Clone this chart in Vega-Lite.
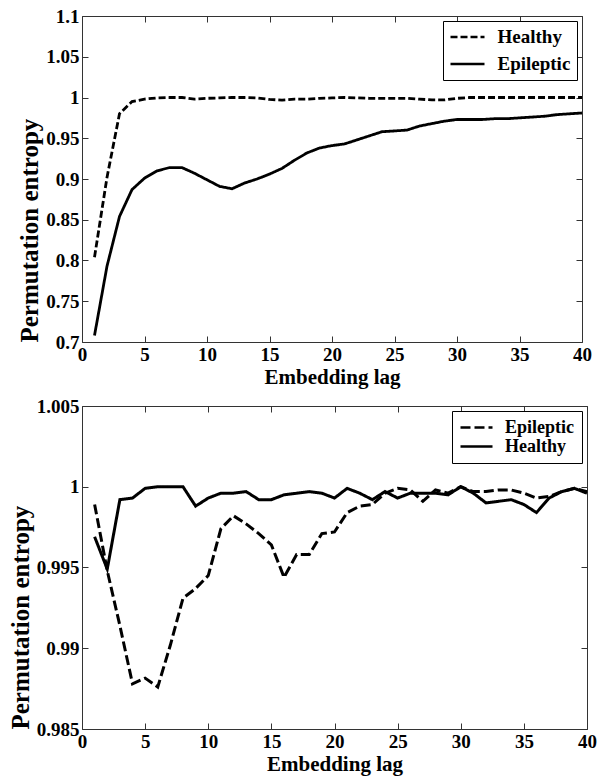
{
  "$schema": "https://vega.github.io/schema/vega-lite/v6.json",
  "padding": {"top": 6, "left": 7, "right": 4, "bottom": 3},
  "spacing": 8,
  "resolve": {"scale": {"strokeDash": "independent", "x": "independent", "y": "independent"}, "legend": {"strokeDash": "independent"}},
  "datasets": {
    "top": [
      {"lag":1,"series":"Healthy","pe":0.804},{"lag":2,"series":"Healthy","pe":0.902},{"lag":3,"series":"Healthy","pe":0.980},{"lag":4,"series":"Healthy","pe":0.995},{"lag":5,"series":"Healthy","pe":0.998},{"lag":6,"series":"Healthy","pe":0.9995},{"lag":7,"series":"Healthy","pe":1.0},{"lag":8,"series":"Healthy","pe":1.0},{"lag":9,"series":"Healthy","pe":0.998},{"lag":10,"series":"Healthy","pe":0.999},
      {"lag":11,"series":"Healthy","pe":0.9995},{"lag":12,"series":"Healthy","pe":1.0},{"lag":13,"series":"Healthy","pe":1.0},{"lag":14,"series":"Healthy","pe":0.9995},{"lag":15,"series":"Healthy","pe":0.9976},{"lag":16,"series":"Healthy","pe":0.9968},{"lag":17,"series":"Healthy","pe":0.998},{"lag":18,"series":"Healthy","pe":0.998},{"lag":19,"series":"Healthy","pe":0.999},{"lag":20,"series":"Healthy","pe":0.9995},
      {"lag":21,"series":"Healthy","pe":1.0},{"lag":22,"series":"Healthy","pe":0.9995},{"lag":23,"series":"Healthy","pe":0.999},{"lag":24,"series":"Healthy","pe":0.999},{"lag":25,"series":"Healthy","pe":0.999},{"lag":26,"series":"Healthy","pe":0.999},{"lag":27,"series":"Healthy","pe":0.998},{"lag":28,"series":"Healthy","pe":0.997},{"lag":29,"series":"Healthy","pe":0.997},{"lag":30,"series":"Healthy","pe":0.999},
      {"lag":31,"series":"Healthy","pe":1.0},{"lag":32,"series":"Healthy","pe":1.0},{"lag":33,"series":"Healthy","pe":1.0},{"lag":34,"series":"Healthy","pe":1.0},{"lag":35,"series":"Healthy","pe":1.0},{"lag":36,"series":"Healthy","pe":1.0},{"lag":37,"series":"Healthy","pe":1.0},{"lag":38,"series":"Healthy","pe":1.0},{"lag":39,"series":"Healthy","pe":1.0},{"lag":40,"series":"Healthy","pe":1.0},
      {"lag":1,"series":"Epileptic","pe":0.708},{"lag":2,"series":"Epileptic","pe":0.793},{"lag":3,"series":"Epileptic","pe":0.854},{"lag":4,"series":"Epileptic","pe":0.887},{"lag":5,"series":"Epileptic","pe":0.901},{"lag":6,"series":"Epileptic","pe":0.910},{"lag":7,"series":"Epileptic","pe":0.914},{"lag":8,"series":"Epileptic","pe":0.914},{"lag":9,"series":"Epileptic","pe":0.907},{"lag":10,"series":"Epileptic","pe":0.899},
      {"lag":11,"series":"Epileptic","pe":0.891},{"lag":12,"series":"Epileptic","pe":0.888},{"lag":13,"series":"Epileptic","pe":0.895},{"lag":14,"series":"Epileptic","pe":0.900},{"lag":15,"series":"Epileptic","pe":0.906},{"lag":16,"series":"Epileptic","pe":0.913},{"lag":17,"series":"Epileptic","pe":0.923},{"lag":18,"series":"Epileptic","pe":0.932},{"lag":19,"series":"Epileptic","pe":0.938},{"lag":20,"series":"Epileptic","pe":0.941},
      {"lag":21,"series":"Epileptic","pe":0.943},{"lag":22,"series":"Epileptic","pe":0.948},{"lag":23,"series":"Epileptic","pe":0.953},{"lag":24,"series":"Epileptic","pe":0.958},{"lag":25,"series":"Epileptic","pe":0.959},{"lag":26,"series":"Epileptic","pe":0.960},{"lag":27,"series":"Epileptic","pe":0.965},{"lag":28,"series":"Epileptic","pe":0.968},{"lag":29,"series":"Epileptic","pe":0.971},{"lag":30,"series":"Epileptic","pe":0.973},
      {"lag":31,"series":"Epileptic","pe":0.973},{"lag":32,"series":"Epileptic","pe":0.973},{"lag":33,"series":"Epileptic","pe":0.974},{"lag":34,"series":"Epileptic","pe":0.974},{"lag":35,"series":"Epileptic","pe":0.975},{"lag":36,"series":"Epileptic","pe":0.976},{"lag":37,"series":"Epileptic","pe":0.977},{"lag":38,"series":"Epileptic","pe":0.979},{"lag":39,"series":"Epileptic","pe":0.980},{"lag":40,"series":"Epileptic","pe":0.981}
    ],
    "bottom": [
      {"lag":1,"series":"Epileptic","pe":0.9989},{"lag":2,"series":"Epileptic","pe":0.9948},{"lag":3,"series":"Epileptic","pe":0.9914},{"lag":4,"series":"Epileptic","pe":0.9878},{"lag":5,"series":"Epileptic","pe":0.98815},{"lag":6,"series":"Epileptic","pe":0.9876},{"lag":7,"series":"Epileptic","pe":0.9902},{"lag":8,"series":"Epileptic","pe":0.9931},{"lag":9,"series":"Epileptic","pe":0.9937},{"lag":10,"series":"Epileptic","pe":0.9945},
      {"lag":11,"series":"Epileptic","pe":0.9974},{"lag":12,"series":"Epileptic","pe":0.9982},{"lag":13,"series":"Epileptic","pe":0.9977},{"lag":14,"series":"Epileptic","pe":0.9971},{"lag":15,"series":"Epileptic","pe":0.9964},{"lag":16,"series":"Epileptic","pe":0.9944},{"lag":17,"series":"Epileptic","pe":0.9958},{"lag":18,"series":"Epileptic","pe":0.9958},{"lag":19,"series":"Epileptic","pe":0.9971},{"lag":20,"series":"Epileptic","pe":0.9972},
      {"lag":21,"series":"Epileptic","pe":0.9984},{"lag":22,"series":"Epileptic","pe":0.9988},{"lag":23,"series":"Epileptic","pe":0.9989},{"lag":24,"series":"Epileptic","pe":0.9996},{"lag":25,"series":"Epileptic","pe":0.9999},{"lag":26,"series":"Epileptic","pe":0.9998},{"lag":27,"series":"Epileptic","pe":0.9991},{"lag":28,"series":"Epileptic","pe":0.9998},{"lag":29,"series":"Epileptic","pe":0.9996},{"lag":30,"series":"Epileptic","pe":1.0},
      {"lag":31,"series":"Epileptic","pe":0.9997},{"lag":32,"series":"Epileptic","pe":0.9997},{"lag":33,"series":"Epileptic","pe":0.9998},{"lag":34,"series":"Epileptic","pe":0.9998},{"lag":35,"series":"Epileptic","pe":0.9996},{"lag":36,"series":"Epileptic","pe":0.9993},{"lag":37,"series":"Epileptic","pe":0.9994},{"lag":38,"series":"Epileptic","pe":0.9997},{"lag":39,"series":"Epileptic","pe":0.9999},{"lag":40,"series":"Epileptic","pe":0.9997},
      {"lag":1,"series":"Healthy","pe":0.9969},{"lag":2,"series":"Healthy","pe":0.9949},{"lag":3,"series":"Healthy","pe":0.9992},{"lag":4,"series":"Healthy","pe":0.9993},{"lag":5,"series":"Healthy","pe":0.9999},{"lag":6,"series":"Healthy","pe":1.0},{"lag":7,"series":"Healthy","pe":1.0},{"lag":8,"series":"Healthy","pe":1.0},{"lag":9,"series":"Healthy","pe":0.9988},{"lag":10,"series":"Healthy","pe":0.9993},
      {"lag":11,"series":"Healthy","pe":0.9996},{"lag":12,"series":"Healthy","pe":0.9996},{"lag":13,"series":"Healthy","pe":0.9997},{"lag":14,"series":"Healthy","pe":0.9992},{"lag":15,"series":"Healthy","pe":0.9992},{"lag":16,"series":"Healthy","pe":0.9995},{"lag":17,"series":"Healthy","pe":0.9996},{"lag":18,"series":"Healthy","pe":0.9997},{"lag":19,"series":"Healthy","pe":0.9996},{"lag":20,"series":"Healthy","pe":0.9993},
      {"lag":21,"series":"Healthy","pe":0.9999},{"lag":22,"series":"Healthy","pe":0.9996},{"lag":23,"series":"Healthy","pe":0.9992},{"lag":24,"series":"Healthy","pe":0.9997},{"lag":25,"series":"Healthy","pe":0.9993},{"lag":26,"series":"Healthy","pe":0.9996},{"lag":27,"series":"Healthy","pe":0.9996},{"lag":28,"series":"Healthy","pe":0.9996},{"lag":29,"series":"Healthy","pe":0.9995},{"lag":30,"series":"Healthy","pe":1.0},
      {"lag":31,"series":"Healthy","pe":0.9996},{"lag":32,"series":"Healthy","pe":0.9990},{"lag":33,"series":"Healthy","pe":0.9991},{"lag":34,"series":"Healthy","pe":0.9992},{"lag":35,"series":"Healthy","pe":0.9989},{"lag":36,"series":"Healthy","pe":0.9984},{"lag":37,"series":"Healthy","pe":0.9993},{"lag":38,"series":"Healthy","pe":0.9997},{"lag":39,"series":"Healthy","pe":0.9999},{"lag":40,"series":"Healthy","pe":0.9996}
    ]
  },
  "vconcat": [
    {
      "width": 500,
      "height": 326,
      "data": {"name": "top"},
      "layer": [
        {
          "mark": {"type": "line", "color": "black", "strokeWidth": 2.8},
          "encoding": {
            "x": {"field": "lag", "type": "quantitative", "title": "Embedding lag",
                  "scale": {"domain": [0, 40], "nice": false, "zero": false},
                  "axis": {"values": [0,5,10,15,20,25,30,35,40]}},
            "y": {"field": "pe", "type": "quantitative", "title": "Permutation entropy",
                  "scale": {"domain": [0.7, 1.1], "nice": false, "zero": false},
                  "axis": {"values": [0.7,0.75,0.8,0.85,0.9,0.95,1,1.05,1.1], "format": ".4~g"}},
            "strokeDash": {"field": "series", "type": "nominal",
                  "scale": {"domain": ["Healthy", "Epileptic"], "range": [[7, 3], [1, 0]]},
                  "legend": {"title": null, "orient": "top-right", "offset": 5, "labelFontSize": 19, "rowPadding": 7, "padding": 6, "symbolType": "M-2,0L2,0", "symbolSize": 289, "symbolOffset": 8.5, "labelOffset": 20}}
          }
        },
        {
          "mark": {"type": "line", "opacity": 0},
          "encoding": {
            "x": {"field": "lag", "type": "quantitative",
                  "axis": {"orient": "top", "labels": false, "title": null, "minExtent": 0, "values": [0,5,10,15,20,25,30,35,40]}},
            "y": {"field": "pe", "type": "quantitative",
                  "axis": {"orient": "right", "labels": false, "title": null, "minExtent": 0, "values": [0.7,0.75,0.8,0.85,0.9,0.95,1,1.05,1.1]}}
          }
        }
      ],
      "resolve": {"axis": {"x": "independent", "y": "independent"}}
    },
    {
      "width": 505,
      "height": 323,
      "data": {"name": "bottom"},
      "layer": [
        {
          "mark": {"type": "line", "color": "black", "strokeWidth": 3},
          "encoding": {
            "x": {"field": "lag", "type": "quantitative", "title": "Embedding lag",
                  "scale": {"domain": [0, 40], "nice": false, "zero": false},
                  "axis": {"values": [0,5,10,15,20,25,30,35,40]}},
            "y": {"field": "pe", "type": "quantitative", "title": "Permutation entropy",
                  "scale": {"domain": [0.985, 1.005], "nice": false, "zero": false},
                  "axis": {"values": [0.985,0.99,0.995,1,1.005], "format": ".4~g"}},
            "strokeDash": {"field": "series", "type": "nominal",
                  "scale": {"domain": ["Epileptic", "Healthy"], "range": [[10, 4], [1, 0]]},
                  "legend": {"title": null, "orient": "top-right", "offset": 5, "labelFontSize": 18, "rowPadding": 0, "padding": 7, "symbolType": "M-2,0L2,0", "symbolSize": 256, "symbolOffset": 8, "labelOffset": 19}}
          }
        },
        {
          "mark": {"type": "line", "opacity": 0},
          "encoding": {
            "x": {"field": "lag", "type": "quantitative",
                  "axis": {"orient": "top", "labels": false, "title": null, "minExtent": 0, "values": [0,5,10,15,20,25,30,35,40]}},
            "y": {"field": "pe", "type": "quantitative",
                  "axis": {"orient": "right", "labels": false, "title": null, "minExtent": 0, "values": [0.985,0.99,0.995,1,1.005]}}
          }
        }
      ],
      "resolve": {"axis": {"x": "independent", "y": "independent"}}
    }
  ],
  "config": {
    "view": {"stroke": "#333", "strokeWidth": 1},
    "axis": {
      "labelFont": "Liberation Serif", "labelFontWeight": "bold", "labelFontSize": 19, "labelColor": "black",
      "titleFont": "Liberation Serif", "titleFontWeight": "bold", "titleColor": "black",
      "grid": false, "domain": false, "tickSize": -6, "tickColor": "#333", "tickWidth": 1,
      "labelPadding": 9, "labelFlush": false, "labelOverlap": false
    },
    "axisX": {"titleFontSize": 21, "titlePadding": 2},
    "axisY": {"titleFontSize": 25, "titlePadding": 3, "titleAnchor": "start"},
    "legend": {
      "strokeColor": "black", "fillColor": "white", "cornerRadius": 0,
      "labelFont": "Liberation Serif", "labelFontWeight": "bold", "labelColor": "black",
      "symbolStrokeColor": "black", "symbolStrokeWidth": 2.5, "symbolFillColor": "transparent"
    }
  }
}
